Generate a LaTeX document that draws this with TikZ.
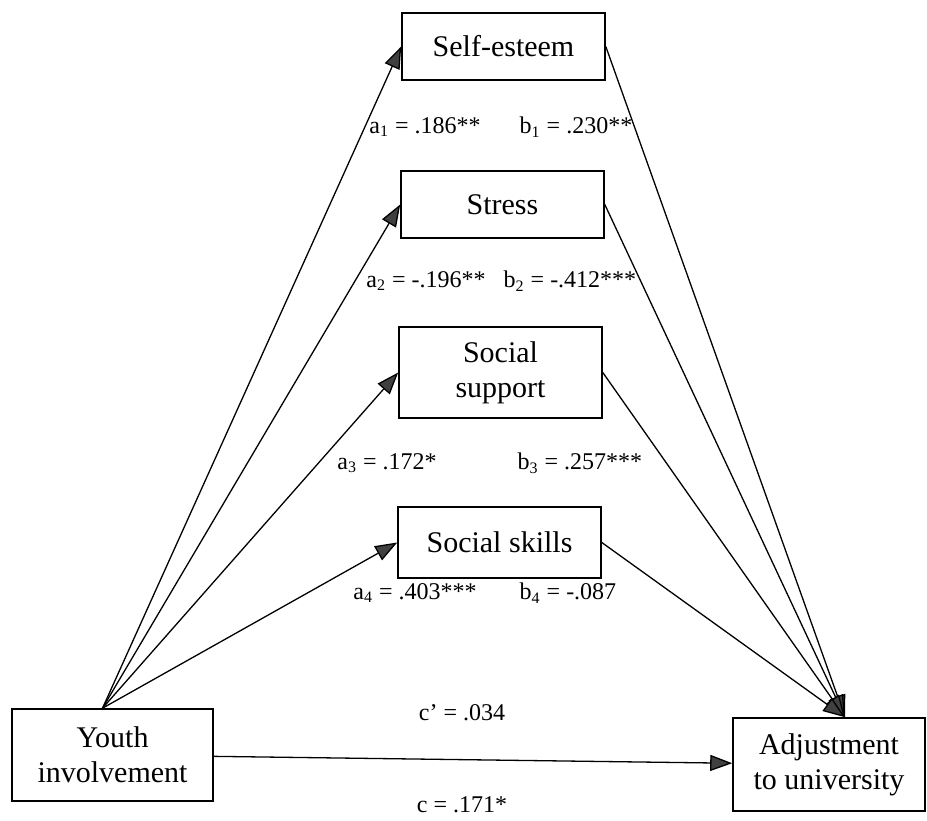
\documentclass[tikz,border=0pt]{standalone}
\usepackage{fontspec}
\setmainfont{Liberation Serif}
\usetikzlibrary{arrows.meta}
\tikzset{
    box/.style={rectangle, draw, line width=0.8pt, inner sep=0pt, align=center,
    	font=\fontsize{15}{17.5}\selectfont}
}
\tikzset{
    coef/.style={inner sep=0pt, font=\fontsize{12}{14}\selectfont}
}
\tikzset{
    every edge/.append style={line width=0.65pt,
    	-{Triangle[length=11pt,width=8pt,fill=black!75]}}
}

\begin{document}
\begin{tikzpicture}[x=0.5pt, y=-0.5pt]
	\useasboundingbox (0,0) rectangle (927,820);
	\node (1) [box, minimum width=101.5pt, minimum height=33.5pt] at (503.5, 46.5) {Self-esteem};
	\node (2) [box, minimum width=101.5pt, minimum height=33.5pt] at (502.5, 204.5) {Stress};
	\node (3) [box, minimum width=101.5pt, minimum height=45.5pt] at (500.5, 372.5) {Social\\support};
	\node (4) [box, minimum width=101.5pt, minimum height=35.5pt] at (499.5, 542.5) {Social skills};
	\node (5) [box, minimum width=100.5pt, minimum height=46pt] at (112.5, 755) {Youth\\involvement};
	\node (6) [box, minimum width=96pt, minimum height=46.5pt] at (829, 764.5) {Adjustment\\to university};
	
	\node (a1) [coef] at (425, 127) {a\textsubscript{1} = .186**};
	\node (b1) [coef] at (576, 127) {b\textsubscript{1} = .230**};
	\node (a2) [coef] at (426, 281) {a\textsubscript{2} = -.196**};
	\node (b2) [coef] at (570, 281) {b\textsubscript{2} = -.412***};
	\node (a3) [coef] at (387, 463) {a\textsubscript{3} = .172*};
	\node (b3) [coef] at (580, 463) {b\textsubscript{3} = .257***};
	\node (a4) [coef] at (415, 593) {a\textsubscript{4} = .403***};
	\node (b4) [coef] at (568, 593) {b\textsubscript{4} = -.087};
	\node (c1) [coef] at (462, 713) {c’ = .034};
	\node (c0) [coef] at (462, 805) {c = .171*};
	
	\draw ([xshift=-5pt]5.north) edge (1.west); \draw ([xshift=-5pt]5.north) edge (2.west);
	\draw ([xshift=-5pt]5.north) edge (3.west); \draw ([xshift=-5pt]5.north) edge (4.west);
	\draw (1.east) edge ([xshift=8pt]6.north); \draw (2.east) edge ([xshift=8pt]6.north);
	\draw (3.east) edge ([xshift=8pt]6.north); \draw (4.east) edge ([xshift=8pt]6.north);
	\draw (5) edge (6);
\end{tikzpicture}
\end{document}
